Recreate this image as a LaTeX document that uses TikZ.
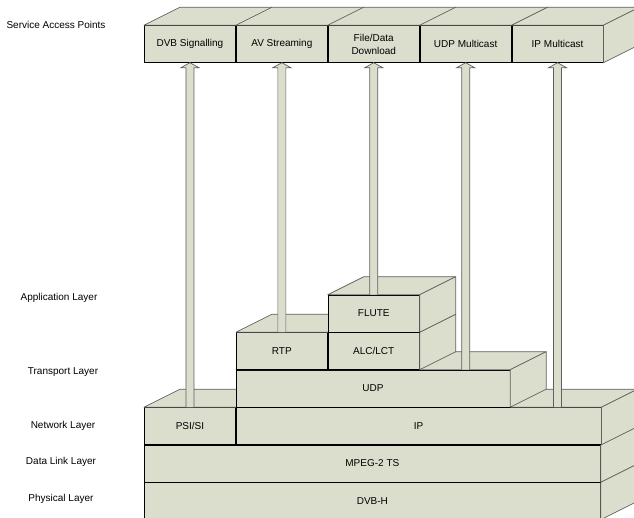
\documentclass[tikz,border=0pt]{standalone}
\usepackage{fontspec}
\setmainfont{Liberation Sans}
\usetikzlibrary{positioning,calc}

\definecolor{layerfill}{RGB}{220,222,205}
\definecolor{edgegray}{RGB}{95,95,95}

% depth of the blocks
\def\dx{36}
\def\dy{18}

% top and right face of a block (front faces are nodes)
\newcommand{\topface}[2]{%
  \draw[side] (#1.north west) -- ++(\dx,-\dy) -- ($(#2.north east)+(\dx,-\dy)$) -- (#2.north east) -- cycle;}
\newcommand{\rightface}[1]{%
  \draw[side] (#1.north east) -- ++(\dx,-\dy) -- ($(#1.south east)+(\dx,-\dy)$) -- (#1.south east) -- cycle;}
% hollow arrow from a layer up to a service access point
\newcommand{\saparrow}[2]{%
  \draw[shaft] ($(#1)+(-4,0)$) -- ($(#2)+(-4,5)$) -- ($(#2)+(-9,5)$) -- (#2)
    -- ($(#2)+(9,5)$) -- ($(#2)+(4,5)$) -- ($(#1)+(4,0)$);}

\tikzset{
  face/.style={draw=black, fill=layerfill, line width=0.7pt, inner sep=0pt,
    minimum height=36.8pt, minimum width=#1*91.2pt, align=center,
    font=\fontsize{10}{13}\selectfont},
  face/.default=1,
  side/.style={draw=edgegray, fill=layerfill, line width=0.7pt, line join=round},
  shaft/.style={draw=edgegray, fill=layerfill, line width=0.7pt, line join=miter},
  layerlabel/.style={font=\fontsize{10}{12}\selectfont}
}

\begin{document}
\begin{tikzpicture}[x=1pt,y=-1pt]
  \useasboundingbox (0,0) rectangle (634,517);

  % stack, bottom up
  \node[face=5, anchor=north west] (dvbh) at (144,482.2) {DVB-H};
  \rightface{dvbh}
  \node[face=5, above=0pt of dvbh] (mpeg) {MPEG-2 TS};
  \rightface{mpeg}
  \node[face, anchor=south west] (psi) at (mpeg.north west) {PSI/SI};
  \node[face=4, right=0pt of psi] (ip) {IP};
  \topface{psi}{ip}
  \rightface{ip}
  \node[face=3, anchor=south west] (udp) at (ip.north west) {UDP};
  \topface{udp}{udp}
  \rightface{udp}
  \node[face, anchor=south west] (rtp) at (udp.north west) {RTP};
  \topface{rtp}{rtp}
  \node[face, right=0pt of rtp] (alc) {ALC/LCT};
  \topface{alc}{alc}
  \rightface{alc}
  \node[face, above=0pt of alc] (flute) {FLUTE};
  \topface{flute}{flute}
  \rightface{flute}

  % service access points
  \node[face, anchor=north west] (dvbs) at (144,25.2) {DVB Signalling};
  \node[face, right=0pt of dvbs] (avs) {AV Streaming};
  \node[face, right=0pt of avs] (file) {File/Data\\Download};
  \node[face, right=0pt of file] (udpm) {UDP Multicast};
  \node[face, right=0pt of udpm] (ipm) {IP Multicast};
  \topface{dvbs}{ipm}
  \rightface{ipm}
  \foreach \n in {avs,file,udpm,ipm}
    \draw[edgegray, line width=0.7pt] (\n.north west) -- ++(\dx,-\dy);

  % arrows
  \coordinate (udpfoot) at (udp.north -| udpm.south);
  \coordinate (ipfoot) at (ip.north -| ipm.south);
  \saparrow{psi.north}{dvbs.south}
  \saparrow{rtp.north}{avs.south}
  \saparrow{flute.north}{file.south}
  \saparrow{udpfoot}{udpm.south}
  \saparrow{ipfoot}{ipm.south}

  % layer names
  \node[layerlabel] (lsap) at (56,25) {Service Access Points};
  \node[layerlabel] (lapp) at (59,298) {Application Layer};
  \node[layerlabel] (ltra) at (63,372) {Transport Layer};
  \node[layerlabel] (lnet) at (63,426) {Network Layer};
  \node[layerlabel] (ldat) at (61,462) {Data Link Layer};
  \node[layerlabel] (lphy) at (61,499) {Physical Layer};
\end{tikzpicture}
\end{document}
